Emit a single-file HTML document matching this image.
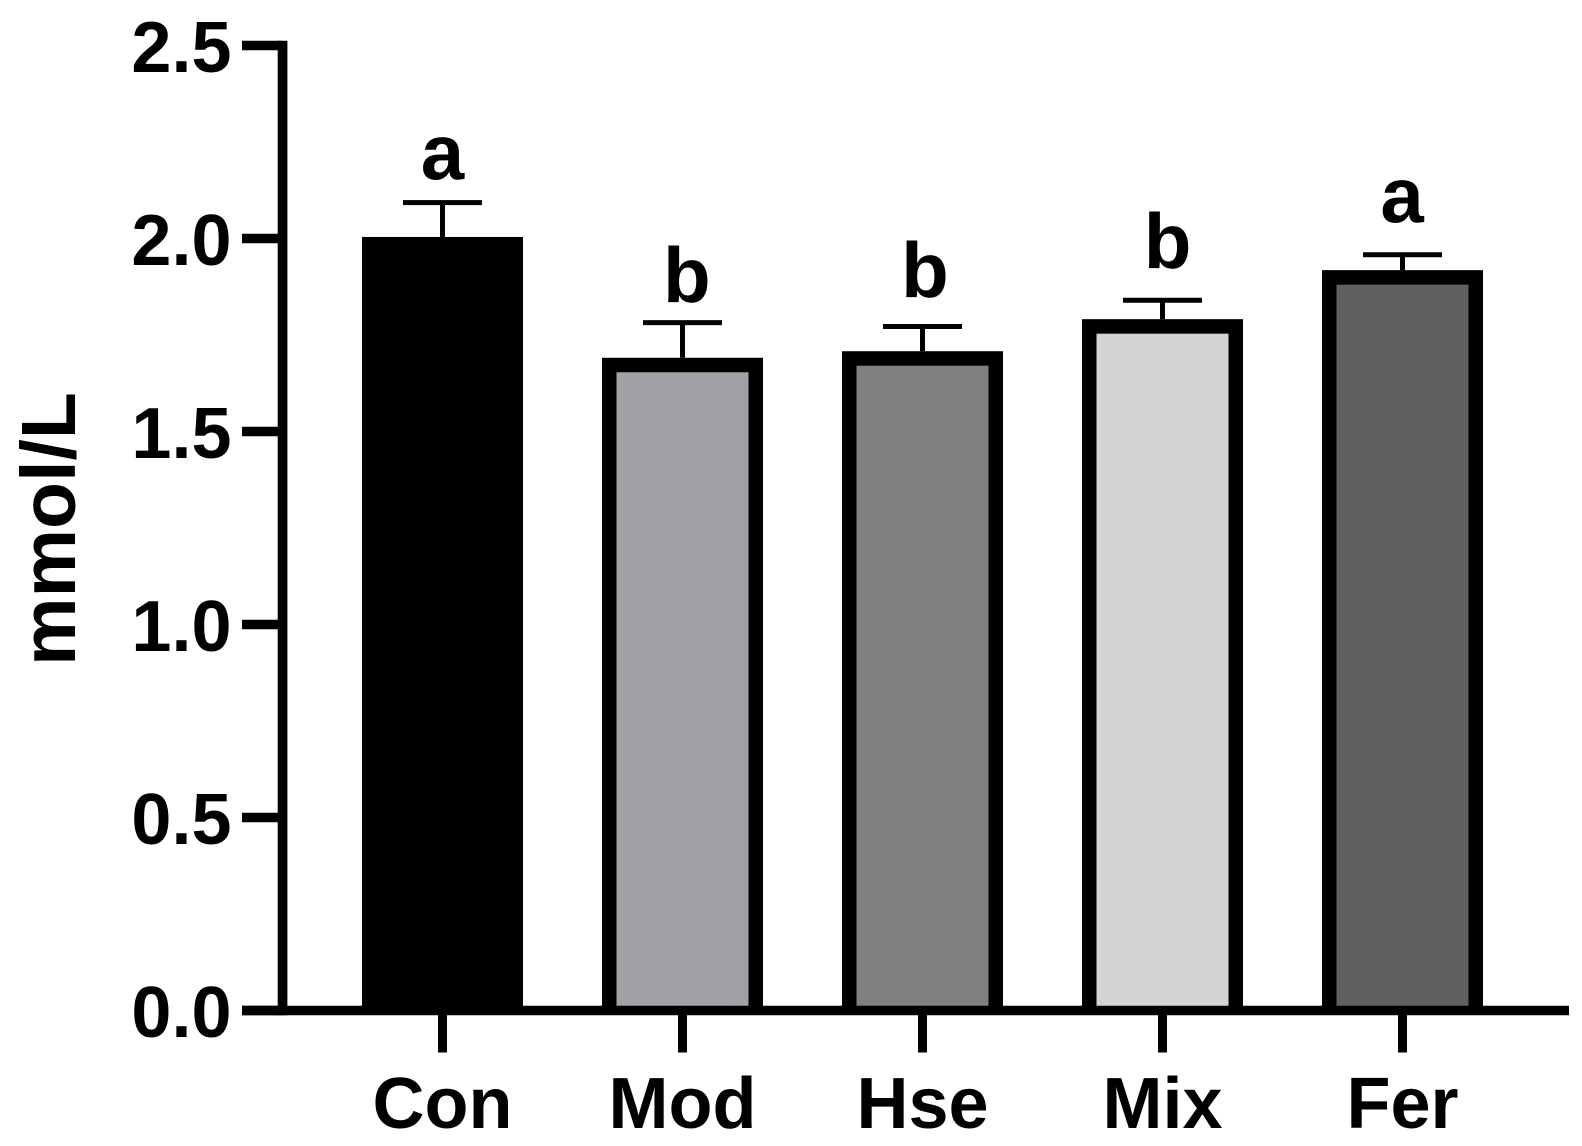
<!DOCTYPE html>
<html lang="en">
<head>
<meta charset="utf-8">
<title>mmol/L by group</title>
<style>
  html, body { margin: 0; padding: 0; background: #fff; }
  svg { display: block; }
  text { font-family: "Liberation Sans", sans-serif; font-weight: bold; fill: #000; }
</style>
</head>
<body>
<svg id="chart" xmlns="http://www.w3.org/2000/svg" width="1582" height="1146" viewBox="0 0 1582 1146"></svg>
<script>
const categories = ["Con", "Mod", "Hse", "Mix", "Fer"];
const means = [2.004, 1.691, 1.708, 1.791, 1.918];
const errorTops = [2.093, 1.782, 1.772, 1.84, 1.958];
const sigLetters = ["a", "b", "b", "b", "a"];
const sigLetterValues = [2.154, 1.836, 1.849, 1.923, 2.043];
const sigLetterCategoryAnchors = [0, 1.018, 2.01, 3.021, 3.998];
const barFills = ["#000000", "#a3a1a6", "#808080", "#d4d4d4", "#606060"];
const yTicks = [0, 0.5, 1, 1.5, 2, 2.5];
const yTickLabels = ["0.0", "0.5", "1.0", "1.5", "2.0", "2.5"];

const svg = document.getElementById("chart");
const NS = "http://www.w3.org/2000/svg";

function yPos(v) { return 1010.5 - v * 386; }
function xPos(i) { return 442.5 + i * 240; }

function rect(x, y, w, h, fill) {
  const el = document.createElementNS(NS, "rect");
  el.setAttribute("x", x);
  el.setAttribute("y", y);
  el.setAttribute("width", w);
  el.setAttribute("height", h);
  el.setAttribute("fill", fill);
  svg.appendChild(el);
  return el;
}
function label(x, y, str, size, anchor) {
  const el = document.createElementNS(NS, "text");
  el.setAttribute("x", x);
  el.setAttribute("y", y);
  el.setAttribute("font-size", size);
  el.setAttribute("text-anchor", anchor);
  el.textContent = str;
  svg.appendChild(el);
  return el;
}

const barWidth = 161, border = 14.5, errW = 79, capH = 5, stemW = 5;

categories.forEach((cat, i) => {
  const cx = xPos(i);
  const top = yPos(means[i]);
  const base = yPos(0);
  const errY = yPos(errorTops[i]);

  const stem = rect(cx - stemW / 2, errY, stemW, top - errY, "#000");
  
  

  const cap = rect(cx - errW / 2, errY - capH / 2, errW, capH, "#000");
  
  

  const outer = rect(cx - barWidth / 2, top, barWidth, base - top, "#000");
  
  

  const fill = rect(cx - barWidth / 2 + border, top + border, barWidth - 2 * border, base - top - border, barFills[i]);
  
  

  const sig = label(xPos(sigLetterCategoryAnchors[i]), yPos(sigLetterValues[i]), sigLetters[i], 78, "middle");
  
  

  const tick = rect(cx - 4.5, base, 9, 42, "#000");
  
  

  const catLabel = label(cx, 1128, cat, 72, "middle");
  
  
});

const yAxis = rect(277.7, yPos(2.5) - 4.75, 9.7, yPos(0) - yPos(2.5) + 9.5, "#000");



const xAxis = rect(242, yPos(0) - 4.75, 1327, 9.5, "#000");



yTicks.forEach((t, i) => {
  const tick = rect(242, yPos(t) - 4.75, 40, 9.5, "#000");
  
  

  const tl = label(231.5, yPos(t) + 26.5, yTickLabels[i], 72, "end");
  
  
});

const title = label(0, 0, "mmol/L", 77, "middle");
title.setAttribute("transform", "translate(75 529) rotate(-90)");


</script>
</body>
</html>
